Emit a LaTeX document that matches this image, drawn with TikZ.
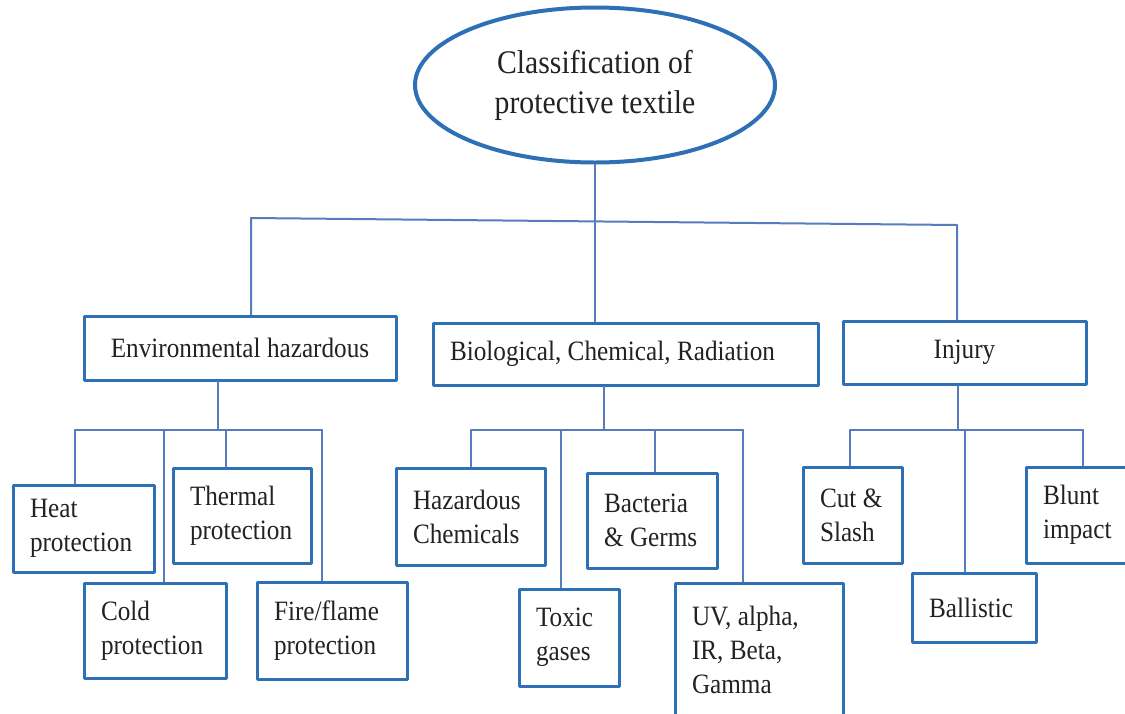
\documentclass[tikz,border=0pt]{standalone}
\usepackage{fontspec}
\setmainfont{Liberation Serif}[FakeStretch=0.9]
\usetikzlibrary{shapes.geometric}
\definecolor{boxblue}{RGB}{46,112,182}
\definecolor{linkblue}{RGB}{86,124,190}
\definecolor{ink}{RGB}{34,34,34}
\begin{document}
\begin{tikzpicture}[x=1pt, y=-1pt, line join=round, line cap=round,
  box/.style={draw=boxblue, line width=3pt, fill=white, text=ink, inner xsep=17pt, inner ysep=0pt, align=left, font=\fontsize{28}{34}\selectfont},
  link/.style={draw=linkblue, line width=2pt},
  execute at begin node={\spaceskip=0.23em\relax}]
 \useasboundingbox (0,0) rectangle (1125,713);
 \clip (0,0) rectangle (1125,713);
 % root
 \node[ellipse, draw=boxblue, line width=4pt, fill=white, minimum width=360pt, minimum height=155pt, inner sep=0pt, align=center, text=ink, font=\fontsize{33}{40}\selectfont] (root) at (595,85) {Classification of\\protective textile};
 % second row
 \node[box, minimum width=312pt, minimum height=64pt, text width=278pt, align=center] (env) at (240,348) {Environmental hazardous};
 \node[box, minimum width=385pt, minimum height=62pt, text width=351pt] (bio) at (625.5,354) {Biological, Chemical, Radiation};
 \node[box, minimum width=243pt, minimum height=63pt, text width=209pt, align=center] (inj) at (964.5,352.5) {Injury};
 % environmental group
 \node[box, minimum width=141pt, minimum height=87pt, text width=107pt] (heat) at (83.5,528.5) {Heat\\protection};
 \node[box, minimum width=142pt, minimum height=95pt, text width=108pt] (cold) at (155,630.5) {Cold\\protection};
 \node[box, minimum width=138pt, minimum height=95pt, text width=104pt] (therm) at (242,515.5) {Thermal\\protection};
 \node[box, minimum width=150pt, minimum height=97pt, text width=116pt] (fire) at (332,630.5) {Fire/flame\\protection};
 % biological group
 \node[box, minimum width=149pt, minimum height=97pt, text width=115pt] (haz) at (470.5,516.5) {Hazardous\\Chemicals};
 \node[box, minimum width=100pt, minimum height=97pt, text width=66pt] (toxic) at (569,637.5) {Toxic\\gases};
 \node[box, minimum width=130pt, minimum height=95pt, text width=96pt] (bact) at (652,520.5) {Bacteria\\\&~Germs};
 \node[box, minimum width=168pt, minimum height=134pt, text width=134pt] (uv) at (759,650) {UV, alpha,\\IR, Beta,\\Gamma};
 % injury group
 \node[box, minimum width=99pt, minimum height=96pt, text width=65pt] (cut) at (852.5,515) {Cut~\&\\Slash};
 \node[box, minimum width=124pt, minimum height=69pt, text width=90pt] (ball) at (974,607.5) {Ballistic};
 \node[box, minimum width=104pt, minimum height=96pt, text width=70pt] (blunt) at (1078,515) {Blunt\\impact};

 % top level connectors
 \coordinate (tl) at (251,218);
 \coordinate (tr) at (957,225);
 \draw[link] (root.south) -- (root.south |- bio.north);
 \draw[link] (tl |- env.north) -- (tl) -- (tr) -- (tr |- inj.north);

 % buses
 \coordinate (e0) at (218,430); \coordinate (e1) at (75,430); \coordinate (e2) at (164,430);
 \coordinate (e3) at (226,430); \coordinate (e4) at (322,430);
 \coordinate (b0) at (604,430); \coordinate (b1) at (471,430); \coordinate (b2) at (561,430);
 \coordinate (b3) at (655,430); \coordinate (b4) at (743,430);
 \coordinate (i0) at (958,430); \coordinate (i1) at (850,430); \coordinate (i2) at (965,430);
 \coordinate (i3) at (1083,430);
 \draw[link] (e0 |- env.south) -- (e0);
 \draw[link] (e1) -- (e4);
 \draw[link] (b0 |- bio.south) -- (b0);
 \draw[link] (b1) -- (b4);
 \draw[link] (i0 |- inj.south) -- (i0);
 \draw[link] (i1) -- (i3);
 \foreach \c/\n in {e1/heat,e2/cold,e3/therm,e4/fire,b1/haz,b2/toxic,b3/bact,b4/uv,i1/cut,i2/ball,i3/blunt}
  \draw[link] (\c) -- (\c |- \n.north);
\end{tikzpicture}
\end{document}
